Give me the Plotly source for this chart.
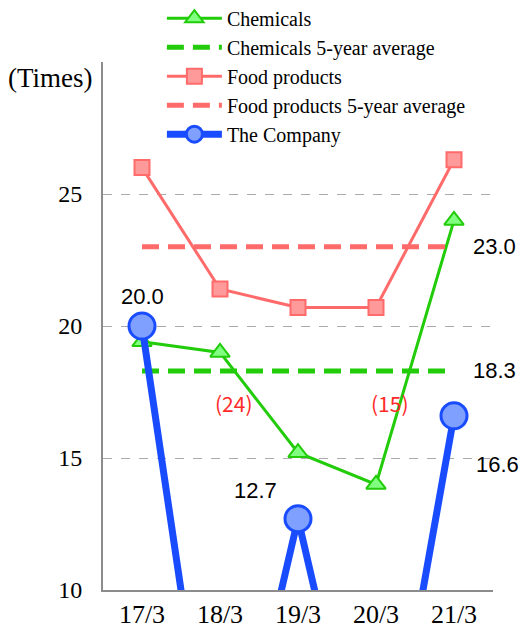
import plotly.graph_objects as go

categories = ["17/3", "18/3", "19/3", "20/3", "21/3"]
chemicals = [19.4, 19.0, 15.2, 14.0, 24.0]
chemicals_avg = [18.3, 18.3, 18.3, 18.3, 18.3]
food = [26.0, 21.4, 20.7, 20.7, 26.3]
food_avg = [23.0, 23.0, 23.0, 23.0, 23.0]
company = [20.0, 0.0, 12.7, 0.0, 16.6]
company_neg_labels = ["", "(24)", "", "(15)", ""]
y_ticks = [10, 15, 20, 25]

GREEN = "#22cc0a"
GREEN_FILL = "#80ff80"
RED = "#ff6b6b"
RED_FILL = "#ff9a9a"
BLUE = "#1a4cff"
BLUE_FILL = "#80a0ff"
SERIF = "Liberation Serif, Times New Roman, serif"
SANS = "Liberation Sans, Arial, sans-serif"
CJK = "Noto Sans CJK JP, sans-serif"

fig = go.Figure()
fig.add_trace(go.Scatter(x=categories, y=chemicals, name="Chemicals", mode="lines+markers",
                         line=dict(color=GREEN, width=3),
                         marker=dict(symbol="triangle-up", size=17, color=GREEN_FILL,
                                     line=dict(color=GREEN, width=2))))
fig.add_trace(go.Scatter(x=categories, y=chemicals_avg, name="Chemicals 5-year average", mode="lines",
                         line=dict(color=GREEN, width=5, dash="17px,9px")))
fig.add_trace(go.Scatter(x=categories, y=food, name="Food products", mode="lines+markers",
                         line=dict(color=RED, width=3),
                         marker=dict(symbol="square", size=15, color=RED_FILL,
                                     line=dict(color=RED, width=2))))
fig.add_trace(go.Scatter(x=categories, y=food_avg, name="Food products 5-year average", mode="lines",
                         line=dict(color=RED, width=5, dash="17px,9px")))
company_markers = [v if v > 10 else None for v in company]
fig.add_trace(go.Scatter(x=categories, y=company, name="The Company", mode="lines",
                         line=dict(color=BLUE, width=7), showlegend=False))
fig.add_trace(go.Scatter(x=categories, y=company_markers, name="The Company", mode="lines+markers",
                         line=dict(color=BLUE, width=7),
                         marker=dict(symbol="circle", size=26, color=BLUE_FILL,
                                     line=dict(color=BLUE, width=3))))

# value labels
lab_font = dict(family=SANS, size=22, color="black")
fig.add_annotation(x=categories[0], y=company[0], text=f"{company[0]:.1f}", showarrow=False,
                   yshift=30, font=lab_font)
fig.add_annotation(x=categories[2], y=company[2], text=f"{company[2]:.1f}", showarrow=False,
                   xshift=-43, yshift=28, font=lab_font)
fig.add_annotation(x=categories[4], y=company[4], text=f"{company[4]:.1f}", showarrow=False,
                   xanchor="left", xshift=20, yshift=-49, font=lab_font)
fig.add_annotation(x=categories[4], y=food_avg[4], text=f"{food_avg[4]:.1f}", showarrow=False,
                   xanchor="left", xshift=17, font=lab_font)
fig.add_annotation(x=categories[4], y=chemicals_avg[4], text=f"{chemicals_avg[4]:.1f}", showarrow=False,
                   xanchor="left", xshift=17, font=lab_font)
for c, lab in zip(categories, company_neg_labels):
    if lab:
        fig.add_annotation(x=c, y=17.1, text=lab, showarrow=False, xshift=14,
                           font=dict(family=CJK, size=21, color="#ff2a2a"))

fig.add_annotation(xref="paper", yref="paper", x=-0.02, y=0.97, xanchor="right", yanchor="middle",
                   text="(Times)", showarrow=False, font=dict(family=SERIF, size=27, color="black"))

fig.update_layout(
    width=520, height=628,
    margin=dict(l=103, r=27, t=62, b=38, autoexpand=False),
    plot_bgcolor="white", paper_bgcolor="white",
    showlegend=True,
    legend=dict(x=0.151, xanchor="left", y=1.12, yanchor="top",
                font=dict(family=SERIF, size=20, color="black"),
                bgcolor="rgba(0,0,0,0)", itemwidth=55, tracegroupgap=0),
    xaxis=dict(type="category", range=[-0.5, 4.5], showgrid=False, showline=True,
               linecolor="#8c8c8c", linewidth=2, ticks="",
               tickfont=dict(family=SERIF, size=26, color="black")),
    yaxis=dict(range=[10, 30], tickvals=y_ticks, showgrid=True, gridcolor="#aaaaaa",
               griddash="dash", gridwidth=1, showline=True, linecolor="#8c8c8c", linewidth=2,
               ticks="", ticklabelstandoff=14, zeroline=False,
               tickfont=dict(family=SERIF, size=24, color="black")),
)

fig.write_html("out.html")
